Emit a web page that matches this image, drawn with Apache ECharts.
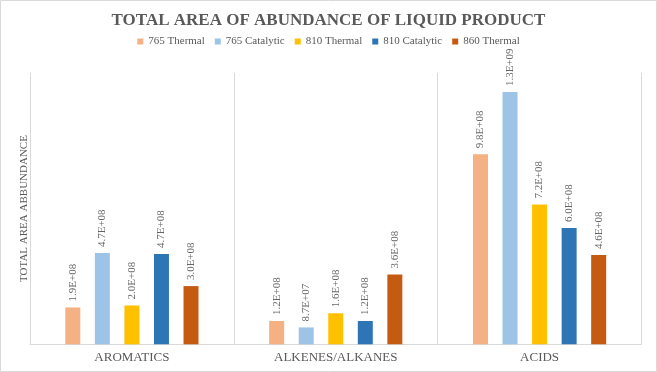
<!DOCTYPE html>
<html>
<head>
<meta charset="utf-8">
<script src="https://cdn.jsdelivr.net/npm/echarts@6/dist/echarts.min.js"></script>
<style>
html,body{margin:0;padding:0;background:#fff;}
#chart{width:657px;height:372px;}
</style>
</head>
<body>
<div id="chart"></div>
<script>
const categories = ['AROMATICS', 'ALKENES/ALKANES', 'ACIDS'];
const seriesNames = ['765 Thermal', '765 Catalytic', '810 Thermal', '810 Catalytic', '860 Thermal'];
const thermal765 = [1.9e8, 1.2e8, 9.8e8];
const catalytic765 = [4.7e8, 8.7e7, 1.3e9];
const thermal810 = [2.0e8, 1.6e8, 7.2e8];
const catalytic810 = [4.66e8, 1.2e8, 6.0e8];
const thermal860 = [3.0e8, 3.6e8, 4.6e8];
const colors = ['#F4B183', '#9DC3E6', '#FFC000', '#2E75B6', '#C55A11'];
const values = [thermal765, catalytic765, thermal810, catalytic810, thermal860];

const FONT = 'Liberation Serif';
function fmt(v) {
  const s = Number(v).toExponential(1);
  const parts = s.split('e');
  let exp = parseInt(parts[1], 10);
  const sign = exp < 0 ? '-' : '+';
  exp = Math.abs(exp);
  return parts[0] + 'E' + sign + (exp < 10 ? '0' + exp : '' + exp);
}

const chart = echarts.init(document.getElementById('chart'), null, {renderer: 'canvas'});
chart.setOption({
  animation: false,
  color: colors,
  title: {
    text: 'TOTAL AREA OF ABUNDANCE OF LIQUID PRODUCT',
    left: 'center',
    top: 12,
    padding: 0,
    textStyle: {fontFamily: FONT, fontSize: 17, fontWeight: 'bold', color: '#595959'}
  },
  legend: {
    data: seriesNames,
    top: 36,
    left: 'center',
    padding: 0,
    icon: 'rect',
    itemWidth: 6,
    itemHeight: 6,
    itemGap: 10,
    textStyle: {fontFamily: FONT, fontSize: 11, color: '#595959'}
  },
  graphic: [{
    type: 'rect',
    shape: {x: 0.5, y: 0.5, width: 656, height: 371},
    style: {fill: 'none', stroke: '#d9d9d9', lineWidth: 1},
    silent: true
  }],
  grid: {left: 30, right: 15.5, top: 72.7, bottom: 27.7},
  xAxis: {
    type: 'category',
    data: categories,
    axisLine: {show: true, lineStyle: {color: '#d9d9d9'}},
    axisTick: {show: false},
    splitLine: {show: true, lineStyle: {color: '#d9d9d9'}},
    axisLabel: {fontFamily: FONT, fontSize: 13, color: '#595959', margin: 7}
  },
  yAxis: {
    type: 'value',
    min: 0,
    max: 1.4e9,
    name: 'TOTAL AREA ABBUNDANCE',
    nameLocation: 'middle',
    nameGap: 0,
    nameTextStyle: {fontFamily: FONT, fontSize: 11, color: '#595959'},
    axisLine: {show: false},
    axisTick: {show: false},
    axisLabel: {show: false},
    splitLine: {show: false}
  },
  series: seriesNames.map((n, i) => ({
    name: n,
    type: 'bar',
    data: values[i],
    barWidth: 15,
    barGap: '97%',
    itemStyle: {color: colors[i]},
    label: {
      show: true,
      position: 'top',
      rotate: 90,
      align: 'left',
      verticalAlign: 'middle',
      distance: 6,
      fontFamily: FONT,
      fontSize: 11,
      color: '#666666',
      formatter: p => fmt(p.value)
    }
  }))
});
</script>
</body>
</html>
